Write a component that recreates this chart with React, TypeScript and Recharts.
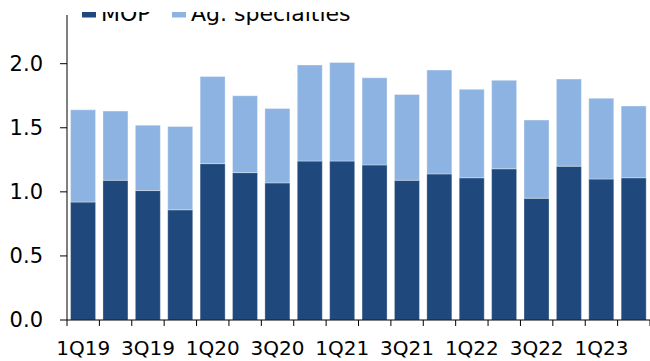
import { BarChart, Bar, XAxis, YAxis } from "recharts";

document.body.style.margin = "0";

const quarters = [
  "1Q19", "2Q19", "3Q19", "4Q19",
  "1Q20", "2Q20", "3Q20", "4Q20",
  "1Q21", "2Q21", "3Q21", "4Q21",
  "1Q22", "2Q22", "3Q22", "4Q22",
  "1Q23", "2Q23",
];
const mop = [
  0.92, 1.09, 1.01, 0.86,
  1.22, 1.15, 1.07, 1.24,
  1.24, 1.21, 1.09, 1.14,
  1.11, 1.18, 0.95, 1.2,
  1.1, 1.11,
];
const agSpecialties = [
  0.72, 0.54, 0.51, 0.65,
  0.68, 0.6, 0.58, 0.75,
  0.77, 0.68, 0.67, 0.81,
  0.69, 0.69, 0.61, 0.68,
  0.63, 0.56,
];
const yTicks = [0, 0.5, 1, 1.5, 2];

const WIDTH = 650;
const HEIGHT = 361;
const Y_AXIS_W = 67;
const X_AXIS_H = 41;
const BAND = (WIDTH - Y_AXIS_W) / quarters.length;
const FONT = "'DejaVu Sans', Verdana, sans-serif";

const MOP_COLOR = "#1f487c";
const AG_COLOR = "#8db3e2";

const data = quarters.map((q, i) => ({
  quarter: q,
  mop: mop[i],
  ag: agSpecialties[i],
}));

// tick marks sit on the category boundaries, labels on every other quarter
function QuarterTick(props: any) {
  const { x, y, payload } = props;
  const index = props.index ?? payload.index;
  const half = BAND / 2;
  return (
    <g>
      <line x1={x - half} x2={x - half} y1={y} y2={y + 6} stroke="#000" />
      {index === quarters.length - 1 && (
        <line x1={x + half} x2={x + half} y1={y} y2={y + 6} stroke="#000" />
      )}
      {index % 2 === 0 && (
        <text
          x={x}
          y={y + 35}
          textAnchor="middle"
          fontSize={20}
          fontFamily={FONT}
          fill="#000"
        >
          {payload.value}
        </text>
      )}
    </g>
  );
}

const legendItems = [
  { label: "MOP", color: MOP_COLOR, x: 82 },
  { label: "Ag. specialties", color: AG_COLOR, x: 172 },
];

function LegendStrip() {
  return (
    <svg
      width={WIDTH}
      height={30}
      style={{ position: "absolute", left: 0, top: 0, pointerEvents: "none" }}
    >
      <defs>
        <clipPath id="legendClip">
          <rect x={0} y={12} width={WIDTH} height={18} />
        </clipPath>
      </defs>
      <g clipPath="url(#legendClip)">
        {legendItems.map((item) => (
          <g key={item.label}>
            <rect x={item.x} y={4} width={14} height={13.5} fill={item.color} />
            <text
              x={item.x + 19}
              y={21}
              fontSize={22}
              fontFamily={FONT}
              fill="#000"
            >
              {item.label}
            </text>
          </g>
        ))}
      </g>
    </svg>
  );
}

export default function App() {
  return (
    <div style={{ position: "relative", width: WIDTH, height: HEIGHT, background: "#fff" }}>
      <BarChart
        width={WIDTH}
        height={HEIGHT}
        data={data}
        margin={{ top: 15, right: 0, bottom: 0, left: 0 }}
        barCategoryGap="11%"
      >
        <XAxis
          dataKey="quarter"
          height={X_AXIS_H}
          interval={0}
          tickLine={false}
          tickSize={0}
          tickMargin={0}
          axisLine={{ stroke: "#000" }}
          tick={<QuarterTick />}
        />
        <YAxis
          width={Y_AXIS_W}
          domain={[0, 2.38]}
          ticks={yTicks}
          tickFormatter={(v: number) => v.toFixed(1)}
          tickSize={7}
          tickMargin={17}
          axisLine={{ stroke: "#000" }}
          tickLine={{ stroke: "#000" }}
          tick={{ fontSize: 21, fontFamily: FONT, fill: "#000" }}
          allowDataOverflow
        />
        <Bar
          dataKey="mop"
          stackId="a"
          fill={MOP_COLOR}
          stroke="rgba(255,255,255,0.3)"
          strokeWidth={1}
          isAnimationActive={false}
        />
        <Bar
          dataKey="ag"
          stackId="a"
          fill={AG_COLOR}
          stroke="rgba(255,255,255,0.35)"
          strokeWidth={1}
          isAnimationActive={false}
        />
      </BarChart>
      <LegendStrip />
    </div>
  );
}
